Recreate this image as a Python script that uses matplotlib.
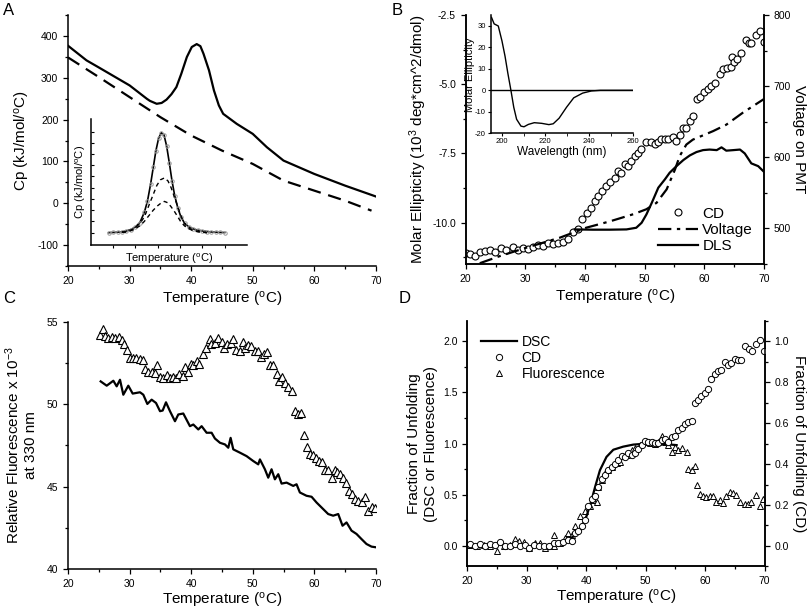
"""Four-panel thermal unfolding figure (DSC / CD / fluorescence / DLS)."""

import matplotlib
matplotlib.use("Agg")
import matplotlib.pyplot as plt
from matplotlib.ticker import MultipleLocator

plt.rcParams["font.family"] = ["Liberation Sans", "DejaVu Sans"]
plt.rcParams["mathtext.fontset"] = "custom"
plt.rcParams["mathtext.rm"] = "Liberation Sans"
plt.rcParams["mathtext.it"] = "Liberation Sans:italic"
plt.rcParams["axes.unicode_minus"] = False
plt.rcParams["axes.linewidth"] = 1.1
plt.rcParams["xtick.major.size"] = 3.5
plt.rcParams["ytick.major.size"] = 3.5
plt.rcParams["xtick.minor.size"] = 2
plt.rcParams["ytick.minor.size"] = 2

# ---------------- Panel A : DSC ----------------
a_solid_t = [20.0, 23.0, 25.0, 30.0, 32.8, 33.3, 34.4, 35.2, 36.0, 36.8, 37.6,
             38.4, 39.3, 40.1, 40.9, 41.5, 42.0, 42.9, 43.7, 44.5, 45.2, 47.4,
             50.0, 52.3, 55.0, 60.0, 65.0, 70.0]
a_solid_cp = [377, 342, 325, 282, 250, 245, 238, 240, 248, 261, 278,
              310, 350, 374, 381, 376, 358, 318, 270, 234, 214, 190,
              166, 134, 102, 70, 42, 16]
a_dash_t = [20.0, 25.0, 30.0, 35.0, 40.0, 45.0, 50.0, 55.0, 60.0, 65.0, 69.3]
a_dash_cp = [349, 302, 254, 206, 162, 126, 94, 54, 30, 6, -18]

# inset of A (arbitrary units)
ins_fit_t = [24.0, 25.0, 26.0, 27.0, 28.0, 29.0, 30.0, 31.0, 32.0, 32.7, 33.4,
             34.0, 34.6, 35.2, 35.8, 36.4, 37.0, 37.6, 38.2, 38.8, 39.5, 40.2,
             41.0, 42.0, 43.0, 44.0, 45.0, 46.0, 47.0, 48.0, 49.0, 50.0]
ins_fit_cp = [0.0, 0.02, 0.04, 0.08, 0.15, 0.28, 0.5, 0.9, 1.8, 2.8, 4.3,
              5.8, 7.3, 8.4, 8.9, 8.7, 7.7, 6.2, 4.6, 3.3, 2.2, 1.4,
              0.85, 0.5, 0.33, 0.22, 0.15, 0.1, 0.06, 0.04, 0.02, 0.01]
ins_pk1_t = [27.0, 28.0, 29.5, 31.0, 32.0, 33.0, 34.0, 34.8, 35.6, 36.5, 37.3,
             38.0, 38.8, 39.5, 40.2, 41.0, 42.0, 43.0, 44.5, 46.0]
ins_pk1_cp = [0.05, 0.1, 0.3, 0.8, 1.4, 2.4, 3.4, 4.2, 4.7, 4.87, 4.6,
              4.0, 3.1, 2.3, 1.5, 0.8, 0.4, 0.2, 0.08, 0.0]
ins_pk2_t = [27.0, 28.0, 29.5, 31.0, 32.0, 33.0, 34.0, 35.0, 35.8, 36.5, 37.3,
             38.0, 38.8, 39.5, 40.2, 41.0, 42.0, 43.0, 44.5, 46.0]
ins_pk2_cp = [0.02, 0.05, 0.25, 0.6, 1.0, 1.5, 2.0, 2.4, 2.65, 2.78, 2.65,
              2.3, 1.85, 1.4, 0.95, 0.6, 0.35, 0.15, 0.05, 0.0]

# ---------------- Panel B : CD / PMT voltage / DLS ----------------
b_cd_t = [20.0, 20.67, 21.51, 22.35, 23.19, 24.03, 24.87, 25.98, 26.82, 27.94,
          28.78, 29.62, 30.46, 31.30, 32.14, 32.98, 33.81, 34.65, 35.49, 36.33,
          37.17, 38.01, 38.85, 39.57, 40.36, 41.08, 41.64, 42.20, 42.93, 43.60,
          44.27, 45.00, 45.56, 46.12, 46.68, 47.24, 47.80, 48.36, 48.91, 49.47,
          50.31, 51.15, 51.71, 52.27, 52.83, 53.39, 53.95, 54.79, 55.35, 55.91,
          56.47, 57.02, 57.58, 58.14, 58.81, 59.37, 59.99, 60.66, 61.22, 61.78,
          62.62, 63.18, 63.74, 64.41, 64.58, 64.97, 65.53, 66.25, 66.98, 67.43,
          67.87, 68.66, 69.33, 70.0, 70.45]
b_cd_val = [-11.10, -11.14, -11.20, -11.07, -11.04, -11.00, -11.07, -10.94, -11.00, -10.88,
            -10.98, -10.92, -10.95, -10.88, -10.81, -10.86, -10.74, -10.79, -10.74, -10.69,
            -10.59, -10.35, -10.25, -9.87, -9.67, -9.49, -9.23, -9.05, -8.86, -8.68,
            -8.54, -8.38, -8.14, -8.20, -7.90, -7.96, -7.78, -7.60, -7.48, -7.33,
            -7.09, -7.09, -7.17, -7.07, -6.99, -6.98, -6.98, -6.90, -7.05, -6.82,
            -6.59, -6.57, -6.33, -6.15, -5.54, -5.45, -5.28, -5.18, -5.06, -4.94,
            -4.64, -4.46, -4.41, -4.36, -4.00, -4.19, -4.09, -3.88, -3.39, -3.49,
            -3.51, -3.22, -3.06, -3.47, -3.03]
b_volt_t = [22.35, 25.7, 30.2, 35.8, 40.2, 44.2, 48.1, 50.3, 52.0, 53.7, 55.1,
            55.9, 57.0, 58.1, 61.5, 63.7, 66.5, 70.0]
b_volt = [451, 461, 473, 487, 501, 510, 520, 527, 536, 555, 583,
          602, 618, 625, 637, 646, 663, 682]
b_dls_t = [38.3, 41.3, 44.1, 46.96, 48.6, 49.5, 50.3, 51.2, 52.3, 53.4, 54.2,
           55.35, 56.5, 57.6, 58.7, 59.8, 60.9, 62.1, 62.9, 63.7, 64.9, 66.0,
           66.8, 67.9, 69.05, 70.0]
b_dls = [-10.25, -10.26, -10.26, -10.25, -10.19, -10.01, -9.71, -9.29, -8.74, -8.44, -8.20,
         -7.96, -7.74, -7.57, -7.45, -7.38, -7.36, -7.38, -7.28, -7.40, -7.38, -7.36,
         -7.50, -7.86, -7.96, -8.16]

# inset of B : far-UV CD spectrum
spec_nm = [195.3, 196.5, 198.4, 200.1, 201.5, 202.8, 204.2, 205.5, 206.8, 208.8,
           210.2, 212.2, 214.9, 218.3, 221.6, 223.6, 226.3, 229.7, 233.0, 237.1,
           241.1, 245.2, 250.0, 260.0]
spec_me = [34.0, 31.0, 30.0, 23.0, 15.9, 7.9, 0.0, -7.9, -13.5, -16.7,
           -17.0, -15.9, -15.1, -15.4, -16.0, -15.6, -13.0, -7.9, -3.5, -1.3,
           -0.3, 0.0, 0.0, 0.0]

# ---------------- Panel C : intrinsic fluorescence ----------------
c_line_t = [25.3, 26.28, 27.36, 27.9, 28.44, 28.98, 29.79, 30.5, 31.69, 32.23,
            32.88, 33.58, 34.29, 34.94, 35.37, 35.91, 36.56, 37.37, 37.91, 38.72,
            39.8, 40.35, 41.16, 41.7, 42.51, 43.32, 43.86, 44.68, 45.49, 46.03,
            46.41, 46.84, 47.92, 49.0, 50.09, 50.9, 51.17, 51.98, 52.52, 53.06,
            53.6, 54.15, 54.69, 55.5, 56.58, 57.12, 57.66, 58.74, 59.56, 60.37,
            61.18, 61.72, 62.26, 63.07, 63.89, 64.59, 65.24, 66.05, 66.86, 67.67,
            68.48, 69.3, 70.0]
c_line = [51.39, 51.13, 51.43, 51.09, 51.49, 50.58, 51.13, 50.65, 50.73, 50.58,
          50.02, 50.28, 50.08, 49.58, 49.62, 50.12, 49.58, 48.97, 49.38, 49.44,
          48.67, 48.77, 48.47, 48.67, 48.27, 48.27, 47.92, 47.66, 47.56, 47.36,
          47.96, 47.26, 47.06, 46.85, 46.55, 46.35, 46.65, 46.05, 45.54, 46.05,
          45.44, 45.75, 45.18, 45.24, 45.04, 45.14, 44.64, 44.44, 44.38, 44.03,
          43.73, 43.53, 43.33, 43.23, 43.33, 42.62, 42.82, 42.32, 42.12, 41.81,
          41.51, 41.35, 41.31]
c_tri_t = [25.2, 25.6, 26.0, 26.5, 27.1, 27.6, 28.2, 28.7, 29.1, 29.5,
           30.1, 30.6, 31.1, 31.7, 32.1, 32.5, 33.0, 33.6, 34.1, 34.5,
           34.9, 35.5, 36.0, 36.6, 37.1, 37.6, 38.1, 38.6, 39.0, 39.5,
           39.9, 40.35, 40.9, 41.3, 41.9, 42.4, 43.0, 43.3, 43.9, 44.4,
           45.0, 45.4, 45.9, 46.4, 46.8, 47.3, 47.9, 48.4, 48.8, 49.3,
           49.8, 50.3, 50.9, 51.4, 51.8, 52.4, 52.8, 53.3, 53.9, 54.3,
           54.8, 55.2, 55.8, 56.3, 56.85, 57.4, 57.8, 58.3, 58.85, 59.3,
           59.8, 60.3, 60.8, 61.3, 61.7, 62.3, 62.8, 63.3, 63.7, 64.2,
           64.6, 65.1, 65.7, 66.05, 66.6, 67.1, 67.7, 68.2, 68.75, 69.3, 69.8]
c_tri = [54.21, 54.58, 54.15, 54.05, 54.09, 54.01, 54.11, 53.91, 53.65, 53.31,
         52.80, 52.84, 52.80, 52.76, 52.70, 52.16, 51.96, 51.94, 51.90, 52.40,
         51.65, 51.59, 51.75, 51.59, 51.67, 51.59, 51.83, 51.69, 52.24, 51.96,
         52.44, 52.40, 52.60, 52.44, 53.04, 53.45, 53.97, 53.65, 53.71, 54.01,
         53.81, 53.41, 53.65, 53.71, 53.95, 53.31, 53.25, 53.77, 53.41, 53.61,
         53.57, 53.21, 53.25, 52.86, 53.04, 53.17, 52.36, 52.40, 51.83, 51.43,
         51.63, 51.29, 51.03, 50.79, 49.58, 49.38, 49.48, 48.12, 47.40, 47.00,
         46.92, 46.71, 46.55, 46.51, 46.01, 45.99, 45.54, 46.03, 45.91, 45.75,
         45.54, 45.24, 44.74, 44.54, 44.23, 44.13, 44.07, 44.38, 43.53, 43.77, 43.69]

# ---------------- Panel D : fraction unfolded ----------------
d_dsc_t = [35.6, 37.8, 39.0, 40.1, 40.9, 41.5, 42.3, 43.4, 44.55, 46.2, 47.9,
           50.1, 52.4, 55.2]
d_dsc = [0.03, 0.09, 0.16, 0.30, 0.45, 0.58, 0.74, 0.87, 0.94, 0.97, 0.99,
         1.00, 1.00, 0.985]
d_cd_t = [20.39, 21.34, 22.18, 23.02, 23.86, 24.70, 25.54, 26.38, 27.21, 28.05,
          28.89, 29.73, 30.29, 31.13, 31.97, 32.81, 33.65, 34.49, 35.32, 36.16,
          37.00, 37.56, 38.12, 38.68, 39.24, 39.80, 40.36, 40.92, 41.48, 42.04,
          42.60, 43.15, 43.71, 44.27, 44.83, 45.39, 45.95, 46.51, 47.07, 47.63,
          48.19, 48.75, 49.31, 49.87, 50.43, 50.98, 51.54, 52.10, 52.66, 53.22,
          53.78, 54.34, 54.90, 55.46, 56.02, 56.58, 57.14, 57.70, 58.26, 58.81,
          59.37, 59.93, 60.49, 61.05, 61.61, 62.17, 62.73, 63.29, 63.85, 64.41,
          64.97, 65.53, 66.09, 66.76, 67.32, 67.87, 68.60, 69.16, 69.83]
d_cd = [0.011, -0.002, 0.011, -0.002, 0.010, 0.003, 0.018, -0.002, -0.002, 0.011,
        -0.002, 0.006, -0.010, 0.006, -0.002, -0.002, -0.002, 0.015, 0.015, 0.018,
        0.028, 0.026, 0.063, 0.071, 0.096, 0.128, 0.196, 0.229, 0.245, 0.290,
        0.327, 0.347, 0.371, 0.387, 0.400, 0.420, 0.439, 0.436, 0.452, 0.444,
        0.452, 0.472, 0.493, 0.514, 0.509, 0.509, 0.504, 0.504, 0.517, 0.520,
        0.509, 0.533, 0.536, 0.566, 0.574, 0.595, 0.606, 0.611, 0.699, 0.715,
        0.731, 0.747, 0.768, 0.815, 0.841, 0.857, 0.861, 0.898, 0.882, 0.895,
        0.912, 0.906, 0.906, 0.976, 0.961, 0.951, 0.987, 1.006, 0.951]
d_fl_t = [20.50, 21.62, 22.74, 23.86, 24.98, 26.10, 27.21, 28.05, 28.61, 29.45,
          30.29, 31.41, 32.25, 33.09, 33.65, 34.49, 34.65, 35.60, 36.44, 37.00,
          37.56, 38.12, 38.96, 39.80, 40.64, 41.20, 41.76, 42.04, 42.60, 43.15,
          43.71, 44.27, 45.11, 45.67, 46.23, 46.79, 47.63, 48.19, 49.03, 49.87,
          50.71, 51.54, 52.10, 52.66, 53.22, 53.78, 54.34, 54.90, 55.46, 56.02,
          56.86, 57.19, 57.70, 58.26, 58.65, 59.09, 59.65, 60.21, 60.77, 61.33,
          61.89, 62.45, 63.01, 63.57, 64.13, 64.69, 65.25, 65.81, 66.64, 67.20,
          67.76, 68.60, 69.16, 69.72]
d_fl = [0.006, 0.003, 0.006, -0.003, -0.052, -0.003, 0.013, 0.068, 0.052, 0.036,
        -0.019, 0.029, 0.029, -0.019, -0.003, -0.003, 0.110, 0.029, 0.078, 0.126,
        0.110, 0.191, 0.295, 0.337, 0.386, 0.450, 0.434, 0.580, 0.645, 0.710,
        0.742, 0.768, 0.807, 0.823, 0.879, 0.888, 0.937, 0.953, 0.985, 1.018,
        1.008, 0.995, 1.018, 1.073, 1.018, 0.985, 0.920, 0.969, 0.937, 0.953,
        0.920, 0.754, 0.742, 0.781, 0.596, 0.509, 0.483, 0.476, 0.489, 0.483,
        0.434, 0.450, 0.418, 0.483, 0.531, 0.515, 0.499, 0.434, 0.408, 0.408,
        0.434, 0.499, 0.392, 0.460]

TEMP_LABEL = "Temperature ($^\\mathrm{o}$C)"
TICK_FS = 7.5
LABEL_FS = 11


def style(ax, right=False):
    ax.spines["top"].set_visible(False)
    if not right:
        ax.spines["right"].set_visible(False)
    ax.tick_params(which="both", direction="out", labelsize=TICK_FS, width=0.9)
    ax.xaxis.set_major_locator(MultipleLocator(10))
    ax.xaxis.set_minor_locator(MultipleLocator(5))


def main():
    fig = plt.figure(figsize=(8.1, 6.11), dpi=100)

    # ---- A ----
    ax_a = fig.add_axes([0.084, 0.565, 0.380, 0.410])
    style(ax_a)
    ax_a.plot(a_solid_t, a_solid_cp, color="black", lw=1.6)
    ax_a.plot(a_dash_t, a_dash_cp, color="black", lw=1.6, dashes=(6, 3.5))
    ax_a.set_xlim(20, 70)
    ax_a.set_ylim(-150, 450)
    ax_a.yaxis.set_minor_locator(MultipleLocator(50))
    ax_a.set_yticks([-100, 0, 100, 200, 300, 400])
    ax_a.set_xlabel(TEMP_LABEL, fontsize=LABEL_FS, labelpad=3)
    ax_a.set_ylabel("Cp (kJ/mol/$^\\mathrm{o}$C)", fontsize=LABEL_FS, labelpad=4)

    ins_a = fig.add_axes([0.112, 0.599, 0.193, 0.206])
    ins_a.patch.set_alpha(0)
    ins_a.spines["top"].set_visible(False)
    ins_a.spines["right"].set_visible(False)
    ins_a.plot(ins_fit_t, ins_fit_cp, color="black", lw=1.2)
    ins_a.plot(ins_fit_t, ins_fit_cp, ls="none", marker="o", ms=2.5,
               mfc="none", mec="0.6", mew=0.7)
    ins_a.plot(ins_pk1_t, ins_pk1_cp, color="black", lw=1.0, dashes=(3, 2.5))
    ins_a.plot(ins_pk2_t, ins_pk2_cp, color="black", lw=1.0, dashes=(3, 2.5))
    ins_a.set_xlim(20, 55)
    ins_a.set_ylim(-1.1, 10.1)
    ins_a.set_xticks([25, 30, 35, 40, 45, 50])
    ins_a.set_yticks(range(0, 10))
    ins_a.tick_params(axis="y", direction="in", length=2.5, labelleft=False)
    ins_a.tick_params(axis="x", direction="out", length=2.5, labelbottom=False)
    ins_a.set_xlabel(TEMP_LABEL, fontsize=8, labelpad=2)
    ins_a.set_ylabel("Cp (kJ/mol/$^\\mathrm{o}$C)", fontsize=8, labelpad=2)

    # ---- B ----
    ax_b = fig.add_axes([0.575, 0.568, 0.368, 0.407])
    style(ax_b, right=True)
    ax_b2 = ax_b.twinx()
    ax_b2.spines["top"].set_visible(False)
    ax_b2.tick_params(which="both", direction="out", labelsize=TICK_FS, width=0.9)
    h_cd, = ax_b.plot(b_cd_t, b_cd_val, ls="none", marker="o", ms=5,
                      mfc="white", mec="black", mew=0.8)
    h_dls, = ax_b.plot(b_dls_t, b_dls, color="black", lw=1.6)
    h_v, = ax_b2.plot(b_volt_t, b_volt, color="black", lw=1.6,
                      dashes=(6, 2.5, 1.5, 2.5))
    ax_b.set_xlim(20, 70)
    ax_b.set_ylim(-11.5, -2.5)
    ax_b.yaxis.set_major_locator(MultipleLocator(2.5))
    ax_b.yaxis.set_minor_locator(MultipleLocator(1.25))
    ax_b2.set_ylim(450, 800)
    ax_b2.yaxis.set_major_locator(MultipleLocator(100))
    ax_b2.yaxis.set_minor_locator(MultipleLocator(50))
    ax_b.set_xlabel(TEMP_LABEL, fontsize=LABEL_FS, labelpad=3)
    ax_b.set_ylabel("Molar Ellipticity (10$^3$ deg*cm^2/dmol)",
                    fontsize=LABEL_FS, labelpad=2)
    ax_b2.set_ylabel("Voltage on PMT", fontsize=LABEL_FS, rotation=270,
                     labelpad=11)
    ax_b.legend([h_cd, h_v, h_dls], ["CD", "Voltage", "DLS"], loc="lower right",
                bbox_to_anchor=(1.0, 0.0), frameon=False, fontsize=11,
                handlelength=2.6, handletextpad=0.3, labelspacing=0.15,
                borderaxespad=0.3)

    ins_b = fig.add_axes([0.606, 0.782, 0.175, 0.193])
    ins_b.patch.set_alpha(0)
    ins_b.spines["top"].set_visible(False)
    ins_b.spines["right"].set_visible(False)
    ins_b.plot(spec_nm, spec_me, color="black", lw=1.0)
    ins_b.axhline(0, color="black", lw=1.0)
    ins_b.set_xlim(195, 260)
    ins_b.set_ylim(-20, 35)
    ins_b.set_xticks([200, 220, 240, 260])
    ins_b.xaxis.set_minor_locator(MultipleLocator(10))
    ins_b.set_yticks([-20, -10, 0, 10, 20, 30])
    ins_b.tick_params(which="both", direction="out", labelsize=5.5, length=2,
                      pad=1.5)
    ins_b.set_xlabel("Wavelength (nm)", fontsize=8.5, labelpad=0.5)
    ins_b.set_ylabel("Molar Ellipticity", fontsize=8, labelpad=0)

    # ---- C ----
    ax_c = fig.add_axes([0.084, 0.069, 0.380, 0.404])
    style(ax_c)
    ax_c.plot(c_line_t, c_line, color="black", lw=1.6)
    ax_c.plot(c_tri_t, c_tri, ls="none", marker="^", ms=6, mfc="white",
              mec="black", mew=0.8)
    ax_c.set_xlim(20, 70)
    ax_c.set_ylim(40, 55)
    ax_c.yaxis.set_major_locator(MultipleLocator(5))
    ax_c.yaxis.set_minor_locator(MultipleLocator(2.5))
    ax_c.set_xlabel(TEMP_LABEL, fontsize=LABEL_FS, labelpad=1.5)
    ax_c.set_ylabel("Relative Fluorescence x 10$^{-3}$\nat 330 nm",
                    fontsize=LABEL_FS, labelpad=6)

    # ---- D ----
    ax_d = fig.add_axes([0.577, 0.073, 0.367, 0.402])
    style(ax_d, right=True)
    ax_d2 = ax_d.twinx()
    ax_d2.spines["top"].set_visible(False)
    ax_d2.tick_params(which="both", direction="out", labelsize=TICK_FS, width=0.9)
    h_dsc, = ax_d.plot(d_dsc_t, d_dsc, color="black", lw=1.6, zorder=3)
    h_fl, = ax_d.plot(d_fl_t, d_fl, ls="none", marker="^", ms=4.5, mfc="white",
                      mec="black", mew=0.7)
    h_cd2, = ax_d2.plot(d_cd_t, d_cd, ls="none", marker="o", ms=4.5, mfc="white",
                        mec="black", mew=0.7)
    ax_d.set_xlim(20, 70)
    ax_d.set_ylim(-0.2, 2.2)
    ax_d.yaxis.set_major_locator(MultipleLocator(0.5))
    ax_d.yaxis.set_minor_locator(MultipleLocator(0.25))
    ax_d2.set_ylim(-0.1, 1.1)
    ax_d2.yaxis.set_major_locator(MultipleLocator(0.2))
    ax_d2.yaxis.set_minor_locator(MultipleLocator(0.1))
    ax_d.set_xlabel(TEMP_LABEL, fontsize=LABEL_FS, labelpad=1.5)
    ax_d.set_ylabel("Fraction of Unfolding\n(DSC or Fluorescence)",
                    fontsize=LABEL_FS, labelpad=4)
    ax_d2.set_ylabel("Fraction of Unfolding (CD)", fontsize=LABEL_FS,
                     rotation=270, labelpad=12)
    ax_d.legend([h_dsc, h_cd2, h_fl], ["DSC", "CD", "Fluorescence"],
                loc="upper left", bbox_to_anchor=(0.0, 1.0), frameon=False,
                fontsize=10, handlelength=2.6, handletextpad=0.3,
                labelspacing=0.15, borderaxespad=0.6)

    # panel letters
    for x, y, s in [(0.004, 0.995, "A"), (0.484, 0.995, "B"),
                    (0.004, 0.523, "C"), (0.492, 0.523, "D")]:
        fig.text(x, y, s, fontsize=12, va="top", ha="left")

    fig.savefig("out.png", dpi=100)


if __name__ == "__main__":
    main()
